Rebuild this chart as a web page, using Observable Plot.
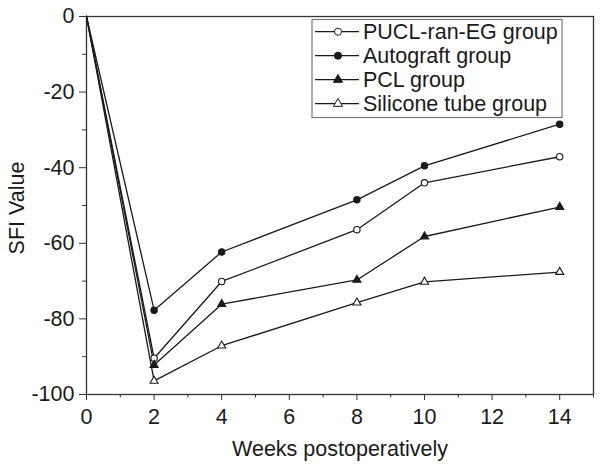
<!DOCTYPE html>
<html>
<head>
<meta charset="utf-8">
<script src="https://cdn.jsdelivr.net/npm/d3@7"></script>
<script src="https://cdn.jsdelivr.net/npm/@observablehq/plot@0.6"></script>
<style>
  body { margin: 0; background: #fff; }
  #chart svg { display: block; }
</style>
</head>
<body>
<div id="chart"></div>
<script>
const weeks = [0, 2, 4, 8, 10, 14];
const seriesNames = ["PUCL-ran-EG group", "Autograft group", "PCL group", "Silicone tube group"];
const puclValues = [0, -90.4, -70.1, -56.4, -44.0, -37.1];
const autograftValues = [0, -77.7, -62.3, -48.5, -39.5, -28.5];
const pclValues = [0, -92.2, -76.1, -69.7, -58.2, -50.4];
const siliconeValues = [0, -96.4, -87.1, -75.7, -70.2, -67.6];
const seriesSymbols = ["circle", "circle", "triangle", "triangle"];
const seriesFills = ["white", "#1a1a1a", "#1a1a1a", "white"];
const xMajorTicks = [0, 2, 4, 6, 8, 10, 12, 14];
const xMinorTicks = [1, 3, 5, 7, 9, 11, 13, 15];
const yMajorTicks = [0, -20, -40, -60, -80, -100];
const yMinorTicks = [-10, -30, -50, -70, -90];

const allValues = [puclValues, autograftValues, pclValues, siliconeValues];
const rows = [];
seriesNames.forEach((name, i) => {
  weeks.forEach((w, j) => rows.push({series: name, week: w, value: allValues[i][j], idx: i}));
});

const font = "Arial, 'Liberation Sans', sans-serif";
const ink = "#1a1a1a";
const fmt = d => String(d);
const fs = 21.5;

const plot = Plot.plot({
  width: 601,
  height: 467,
  marginLeft: 86,
  marginRight: 8,
  marginTop: 16,
  marginBottom: 73,
  style: {fontFamily: font, fontSize: fs + "px", color: ink, background: "white"},
  x: {domain: [0, 15]},
  y: {domain: [-100, 0]},
  marks: [
    Plot.axisX({ticks: xMajorTicks, tickSize: 6, tickPadding: 8, fontSize: fs, tickFormat: fmt, label: null, stroke: "#333"}),
    Plot.axisX({ticks: xMinorTicks, tickSize: 3.5, text: null, label: null, stroke: "#333"}),
    Plot.axisY({ticks: yMajorTicks, tickSize: 7, tickPadding: 5, fontSize: fs, tickFormat: fmt, label: null, stroke: "#333"}),
    Plot.axisY({ticks: yMinorTicks, tickSize: 4, text: null, label: null, stroke: "#333"}),
    Plot.frame({stroke: "#333", strokeWidth: 1.3}),
    Plot.line(rows, {x: "week", y: "value", z: "series", stroke: ink, strokeWidth: 1.3}),
    Plot.dot(rows.filter(d => d.week > 0), {
      x: "week", y: "value",
      symbol: d => seriesSymbols[d.idx],
      fill: d => seriesFills[d.idx],
      r: d => seriesSymbols[d.idx] === "circle" ? 4.5 : 4.0,
      stroke: ink, strokeWidth: 1.1
    })
  ]
});

document.getElementById("chart").appendChild(plot);

const svg = d3.select(plot);
// axis titles
svg.append("text")
  .attr("transform", "translate(24,208) rotate(-90)")
  .attr("text-anchor", "middle")
  .attr("font-family", font).attr("font-size", 21.5).attr("fill", ink)
  .text("SFI Value");
svg.append("text")
  .attr("x", 340).attr("y", 456)
  .attr("text-anchor", "middle")
  .attr("font-family", font).attr("font-size", 21.5).attr("fill", ink)
  .text("Weeks postoperatively");

// legend
const lg = svg.append("g");
lg.append("rect").attr("x", 312).attr("y", 19.5).attr("width", 250).attr("height", 98)
  .attr("fill", "white").attr("stroke", "#777").attr("stroke-width", 1.2);
seriesNames.forEach((name, i) => {
  const y = 31.7 + i * 24;
  lg.append("line").attr("x1", 315).attr("x2", 359).attr("y1", y).attr("y2", y)
    .attr("stroke", ink).attr("stroke-width", 1.3);
  const sym = seriesSymbols[i] === "circle" ? d3.symbolCircle : d3.symbolTriangle;
  lg.append("path").attr("d", d3.symbol(sym, seriesSymbols[i] === "circle" ? 40 : 36)())
    .attr("transform", `translate(338,${y})`)
    .attr("fill", seriesFills[i]).attr("stroke", ink).attr("stroke-width", 1);
  lg.append("text").attr("x", 363).attr("y", y + 7.5)
    .attr("text-anchor", "start")
    .attr("font-family", font).attr("font-size", fs).attr("fill", ink)
    .text(name);
});
</script>
</body>
</html>
